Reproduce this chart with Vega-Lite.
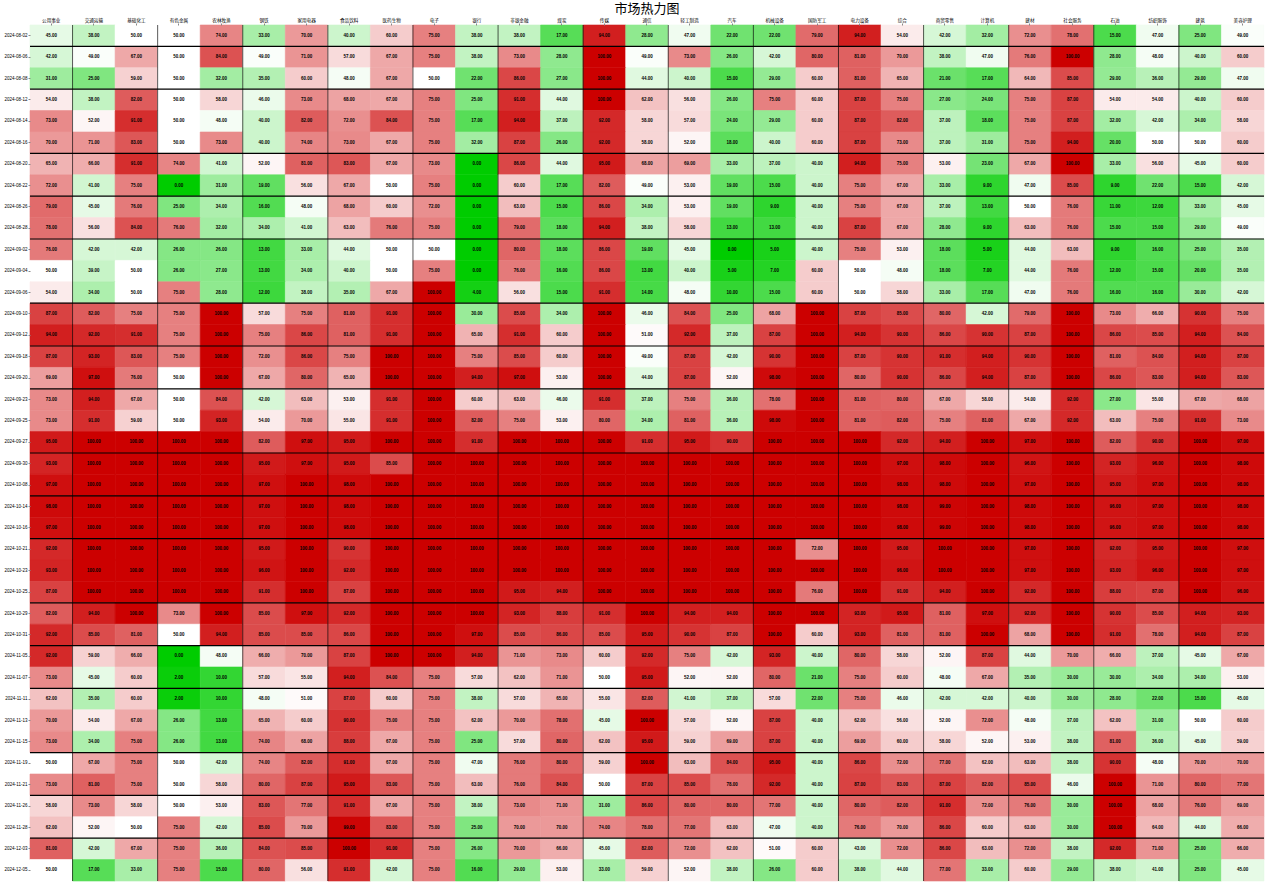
{"$schema":"https://vega.github.io/schema/vega-lite/v6.json","width":1234,"height":856,"autosize":"none","padding":{"left":30,"top":25,"right":3,"bottom":6},"background":"white","title":{"text":"市场热力图","font":"Noto Sans CJK SC","fontSize":13,"fontWeight":"normal","color":"#000","anchor":"middle","offset":1},"config":{"view":{"stroke":null}},
"datasets":{"cols":[{"c":1,"s":"公用事业"},{"c":2,"s":"交通运输"},{"c":3,"s":"基础化工"},{"c":4,"s":"有色金属"},{"c":5,"s":"农林牧渔"},{"c":6,"s":"钢铁"},{"c":7,"s":"家用电器"},{"c":8,"s":"食品饮料"},{"c":9,"s":"医药生物"},{"c":10,"s":"电子"},{"c":11,"s":"银行"},{"c":12,"s":"非银金融"},{"c":13,"s":"煤炭"},{"c":14,"s":"传媒"},{"c":15,"s":"通信"},{"c":16,"s":"轻工制造"},{"c":17,"s":"汽车"},{"c":18,"s":"机械设备"},{"c":19,"s":"国防军工"},{"c":20,"s":"电力设备"},{"c":21,"s":"综合"},{"c":22,"s":"商贸零售"},{"c":23,"s":"计算机"},{"c":24,"s":"建材"},{"c":25,"s":"社会服务"},{"c":26,"s":"石油"},{"c":27,"s":"纺织服饰"},{"c":28,"s":"建筑"},{"c":29,"s":"美容护理"}],
"rows":[{"r":1,"d":"2024-08-02"},{"r":2,"d":"2024-08-06"},{"r":3,"d":"2024-08-08"},{"r":4,"d":"2024-08-12"},{"r":5,"d":"2024-08-14"},{"r":6,"d":"2024-08-16"},{"r":7,"d":"2024-08-20"},{"r":8,"d":"2024-08-22"},{"r":9,"d":"2024-08-26"},{"r":10,"d":"2024-08-28"},{"r":11,"d":"2024-09-02"},{"r":12,"d":"2024-09-04"},{"r":13,"d":"2024-09-06"},{"r":14,"d":"2024-09-10"},{"r":15,"d":"2024-09-12"},{"r":16,"d":"2024-09-18"},{"r":17,"d":"2024-09-20"},{"r":18,"d":"2024-09-23"},{"r":19,"d":"2024-09-25"},{"r":20,"d":"2024-09-27"},{"r":21,"d":"2024-09-30"},{"r":22,"d":"2024-10-08"},{"r":23,"d":"2024-10-14"},{"r":24,"d":"2024-10-16"},{"r":25,"d":"2024-10-21"},{"r":26,"d":"2024-10-23"},{"r":27,"d":"2024-10-25"},{"r":28,"d":"2024-10-29"},{"r":29,"d":"2024-10-31"},{"r":30,"d":"2024-11-05"},{"r":31,"d":"2024-11-07"},{"r":32,"d":"2024-11-11"},{"r":33,"d":"2024-11-13"},{"r":34,"d":"2024-11-15"},{"r":35,"d":"2024-11-19"},{"r":36,"d":"2024-11-21"},{"r":37,"d":"2024-11-26"},{"r":38,"d":"2024-11-28"},{"r":39,"d":"2024-12-03"},{"r":40,"d":"2024-12-05"}],
"cells":[{"r":1,"c":1,"v":45},{"r":1,"c":2,"v":38},{"r":1,"c":3,"v":50},{"r":1,"c":4,"v":50},{"r":1,"c":5,"v":74},{"r":1,"c":6,"v":33},{"r":1,"c":7,"v":70},{"r":1,"c":8,"v":40},{"r":1,"c":9,"v":60},{"r":1,"c":10,"v":75},{"r":1,"c":11,"v":38},{"r":1,"c":12,"v":38},{"r":1,"c":13,"v":17},{"r":1,"c":14,"v":94},{"r":1,"c":15,"v":28},{"r":1,"c":16,"v":47},{"r":1,"c":17,"v":22},{"r":1,"c":18,"v":22},{"r":1,"c":19,"v":79},{"r":1,"c":20,"v":94},{"r":1,"c":21,"v":54},{"r":1,"c":22,"v":42},{"r":1,"c":23,"v":32},{"r":1,"c":24,"v":72},{"r":1,"c":25,"v":78},{"r":1,"c":26,"v":15},{"r":1,"c":27,"v":47},{"r":1,"c":28,"v":25},{"r":1,"c":29,"v":49},
{"r":2,"c":1,"v":42},{"r":2,"c":2,"v":49},{"r":2,"c":3,"v":67},{"r":2,"c":4,"v":50},{"r":2,"c":5,"v":84},{"r":2,"c":6,"v":49},{"r":2,"c":7,"v":71},{"r":2,"c":8,"v":57},{"r":2,"c":9,"v":67},{"r":2,"c":10,"v":75},{"r":2,"c":11,"v":38},{"r":2,"c":12,"v":73},{"r":2,"c":13,"v":28},{"r":2,"c":14,"v":100},{"r":2,"c":15,"v":49},{"r":2,"c":16,"v":73},{"r":2,"c":17,"v":26},{"r":2,"c":18,"v":42},{"r":2,"c":19,"v":80},{"r":2,"c":20,"v":81},{"r":2,"c":21,"v":70},{"r":2,"c":22,"v":38},{"r":2,"c":23,"v":47},{"r":2,"c":24,"v":76},{"r":2,"c":25,"v":100},{"r":2,"c":26,"v":28},{"r":2,"c":27,"v":48},{"r":2,"c":28,"v":40},{"r":2,"c":29,"v":60},
{"r":3,"c":1,"v":31},{"r":3,"c":2,"v":25},{"r":3,"c":3,"v":59},{"r":3,"c":4,"v":50},{"r":3,"c":5,"v":32},{"r":3,"c":6,"v":35},{"r":3,"c":7,"v":60},{"r":3,"c":8,"v":48},{"r":3,"c":9,"v":67},{"r":3,"c":10,"v":50},{"r":3,"c":11,"v":22},{"r":3,"c":12,"v":86},{"r":3,"c":13,"v":27},{"r":3,"c":14,"v":100},{"r":3,"c":15,"v":44},{"r":3,"c":16,"v":40},{"r":3,"c":17,"v":15},{"r":3,"c":18,"v":29},{"r":3,"c":19,"v":60},{"r":3,"c":20,"v":81},{"r":3,"c":21,"v":65},{"r":3,"c":22,"v":21},{"r":3,"c":23,"v":17},{"r":3,"c":24,"v":64},{"r":3,"c":25,"v":85},{"r":3,"c":26,"v":29},{"r":3,"c":27,"v":36},{"r":3,"c":28,"v":29},{"r":3,"c":29,"v":47},
{"r":4,"c":1,"v":54},{"r":4,"c":2,"v":38},{"r":4,"c":3,"v":82},{"r":4,"c":4,"v":50},{"r":4,"c":5,"v":58},{"r":4,"c":6,"v":46},{"r":4,"c":7,"v":73},{"r":4,"c":8,"v":68},{"r":4,"c":9,"v":67},{"r":4,"c":10,"v":75},{"r":4,"c":11,"v":25},{"r":4,"c":12,"v":91},{"r":4,"c":13,"v":44},{"r":4,"c":14,"v":100},{"r":4,"c":15,"v":62},{"r":4,"c":16,"v":56},{"r":4,"c":17,"v":26},{"r":4,"c":18,"v":75},{"r":4,"c":19,"v":60},{"r":4,"c":20,"v":87},{"r":4,"c":21,"v":75},{"r":4,"c":22,"v":27},{"r":4,"c":23,"v":24},{"r":4,"c":24,"v":75},{"r":4,"c":25,"v":87},{"r":4,"c":26,"v":54},{"r":4,"c":27,"v":54},{"r":4,"c":28,"v":40},{"r":4,"c":29,"v":60},
{"r":5,"c":1,"v":73},{"r":5,"c":2,"v":52},{"r":5,"c":3,"v":91},{"r":5,"c":4,"v":50},{"r":5,"c":5,"v":48},{"r":5,"c":6,"v":40},{"r":5,"c":7,"v":82},{"r":5,"c":8,"v":72},{"r":5,"c":9,"v":84},{"r":5,"c":10,"v":75},{"r":5,"c":11,"v":17},{"r":5,"c":12,"v":94},{"r":5,"c":13,"v":37},{"r":5,"c":14,"v":92},{"r":5,"c":15,"v":58},{"r":5,"c":16,"v":57},{"r":5,"c":17,"v":24},{"r":5,"c":18,"v":29},{"r":5,"c":19,"v":60},{"r":5,"c":20,"v":87},{"r":5,"c":21,"v":82},{"r":5,"c":22,"v":37},{"r":5,"c":23,"v":18},{"r":5,"c":24,"v":75},{"r":5,"c":25,"v":87},{"r":5,"c":26,"v":32},{"r":5,"c":27,"v":42},{"r":5,"c":28,"v":34},{"r":5,"c":29,"v":58},
{"r":6,"c":1,"v":70},{"r":6,"c":2,"v":71},{"r":6,"c":3,"v":83},{"r":6,"c":4,"v":50},{"r":6,"c":5,"v":73},{"r":6,"c":6,"v":40},{"r":6,"c":7,"v":74},{"r":6,"c":8,"v":73},{"r":6,"c":9,"v":67},{"r":6,"c":10,"v":75},{"r":6,"c":11,"v":32},{"r":6,"c":12,"v":87},{"r":6,"c":13,"v":26},{"r":6,"c":14,"v":92},{"r":6,"c":15,"v":58},{"r":6,"c":16,"v":52},{"r":6,"c":17,"v":18},{"r":6,"c":18,"v":40},{"r":6,"c":19,"v":60},{"r":6,"c":20,"v":87},{"r":6,"c":21,"v":73},{"r":6,"c":22,"v":37},{"r":6,"c":23,"v":31},{"r":6,"c":24,"v":75},{"r":6,"c":25,"v":94},{"r":6,"c":26,"v":20},{"r":6,"c":27,"v":50},{"r":6,"c":28,"v":50},{"r":6,"c":29,"v":60},
{"r":7,"c":1,"v":65},{"r":7,"c":2,"v":66},{"r":7,"c":3,"v":91},{"r":7,"c":4,"v":74},{"r":7,"c":5,"v":41},{"r":7,"c":6,"v":52},{"r":7,"c":7,"v":81},{"r":7,"c":8,"v":83},{"r":7,"c":9,"v":67},{"r":7,"c":10,"v":73},{"r":7,"c":11,"v":0},{"r":7,"c":12,"v":86},{"r":7,"c":13,"v":44},{"r":7,"c":14,"v":95},{"r":7,"c":15,"v":68},{"r":7,"c":16,"v":69},{"r":7,"c":17,"v":33},{"r":7,"c":18,"v":37},{"r":7,"c":19,"v":40},{"r":7,"c":20,"v":94},{"r":7,"c":21,"v":75},{"r":7,"c":22,"v":53},{"r":7,"c":23,"v":23},{"r":7,"c":24,"v":67},{"r":7,"c":25,"v":100},{"r":7,"c":26,"v":33},{"r":7,"c":27,"v":56},{"r":7,"c":28,"v":45},{"r":7,"c":29,"v":60},
{"r":8,"c":1,"v":72},{"r":8,"c":2,"v":41},{"r":8,"c":3,"v":75},{"r":8,"c":4,"v":0},{"r":8,"c":5,"v":31},{"r":8,"c":6,"v":19},{"r":8,"c":7,"v":56},{"r":8,"c":8,"v":67},{"r":8,"c":9,"v":50},{"r":8,"c":10,"v":75},{"r":8,"c":11,"v":0},{"r":8,"c":12,"v":60},{"r":8,"c":13,"v":17},{"r":8,"c":14,"v":82},{"r":8,"c":15,"v":49},{"r":8,"c":16,"v":53},{"r":8,"c":17,"v":19},{"r":8,"c":18,"v":15},{"r":8,"c":19,"v":40},{"r":8,"c":20,"v":75},{"r":8,"c":21,"v":67},{"r":8,"c":22,"v":33},{"r":8,"c":23,"v":9},{"r":8,"c":24,"v":47},{"r":8,"c":25,"v":85},{"r":8,"c":26,"v":9},{"r":8,"c":27,"v":22},{"r":8,"c":28,"v":15},{"r":8,"c":29,"v":42},
{"r":9,"c":1,"v":79},{"r":9,"c":2,"v":45},{"r":9,"c":3,"v":76},{"r":9,"c":4,"v":25},{"r":9,"c":5,"v":34},{"r":9,"c":6,"v":16},{"r":9,"c":7,"v":48},{"r":9,"c":8,"v":68},{"r":9,"c":9,"v":60},{"r":9,"c":10,"v":72},{"r":9,"c":11,"v":0},{"r":9,"c":12,"v":63},{"r":9,"c":13,"v":15},{"r":9,"c":14,"v":86},{"r":9,"c":15,"v":34},{"r":9,"c":16,"v":53},{"r":9,"c":17,"v":19},{"r":9,"c":18,"v":9},{"r":9,"c":19,"v":40},{"r":9,"c":20,"v":75},{"r":9,"c":21,"v":67},{"r":9,"c":22,"v":37},{"r":9,"c":23,"v":13},{"r":9,"c":24,"v":50},{"r":9,"c":25,"v":76},{"r":9,"c":26,"v":11},{"r":9,"c":27,"v":12},{"r":9,"c":28,"v":33},{"r":9,"c":29,"v":45},
{"r":10,"c":1,"v":78},{"r":10,"c":2,"v":56},{"r":10,"c":3,"v":84},{"r":10,"c":4,"v":76},{"r":10,"c":5,"v":32},{"r":10,"c":6,"v":34},{"r":10,"c":7,"v":41},{"r":10,"c":8,"v":63},{"r":10,"c":9,"v":76},{"r":10,"c":10,"v":75},{"r":10,"c":11,"v":0},{"r":10,"c":12,"v":79},{"r":10,"c":13,"v":18},{"r":10,"c":14,"v":94},{"r":10,"c":15,"v":38},{"r":10,"c":16,"v":58},{"r":10,"c":17,"v":13},{"r":10,"c":18,"v":13},{"r":10,"c":19,"v":40},{"r":10,"c":20,"v":87},{"r":10,"c":21,"v":67},{"r":10,"c":22,"v":28},{"r":10,"c":23,"v":9},{"r":10,"c":24,"v":63},{"r":10,"c":25,"v":76},{"r":10,"c":26,"v":15},{"r":10,"c":27,"v":15},{"r":10,"c":28,"v":29},{"r":10,"c":29,"v":49},
{"r":11,"c":1,"v":76},{"r":11,"c":2,"v":42},{"r":11,"c":3,"v":42},{"r":11,"c":4,"v":26},{"r":11,"c":5,"v":26},{"r":11,"c":6,"v":13},{"r":11,"c":7,"v":33},{"r":11,"c":8,"v":44},{"r":11,"c":9,"v":50},{"r":11,"c":10,"v":50},{"r":11,"c":11,"v":0},{"r":11,"c":12,"v":80},{"r":11,"c":13,"v":18},{"r":11,"c":14,"v":86},{"r":11,"c":15,"v":19},{"r":11,"c":16,"v":45},{"r":11,"c":17,"v":0},{"r":11,"c":18,"v":5},{"r":11,"c":19,"v":40},{"r":11,"c":20,"v":75},{"r":11,"c":21,"v":53},{"r":11,"c":22,"v":18},{"r":11,"c":23,"v":5},{"r":11,"c":24,"v":44},{"r":11,"c":25,"v":63},{"r":11,"c":26,"v":9},{"r":11,"c":27,"v":16},{"r":11,"c":28,"v":25},{"r":11,"c":29,"v":35},
{"r":12,"c":1,"v":50},{"r":12,"c":2,"v":39},{"r":12,"c":3,"v":50},{"r":12,"c":4,"v":26},{"r":12,"c":5,"v":27},{"r":12,"c":6,"v":13},{"r":12,"c":7,"v":34},{"r":12,"c":8,"v":40},{"r":12,"c":9,"v":50},{"r":12,"c":10,"v":75},{"r":12,"c":11,"v":0},{"r":12,"c":12,"v":76},{"r":12,"c":13,"v":16},{"r":12,"c":14,"v":86},{"r":12,"c":15,"v":13},{"r":12,"c":16,"v":40},{"r":12,"c":17,"v":5},{"r":12,"c":18,"v":7},{"r":12,"c":19,"v":60},{"r":12,"c":20,"v":50},{"r":12,"c":21,"v":48},{"r":12,"c":22,"v":18},{"r":12,"c":23,"v":7},{"r":12,"c":24,"v":44},{"r":12,"c":25,"v":76},{"r":12,"c":26,"v":12},{"r":12,"c":27,"v":15},{"r":12,"c":28,"v":20},{"r":12,"c":29,"v":35},
{"r":13,"c":1,"v":54},{"r":13,"c":2,"v":34},{"r":13,"c":3,"v":50},{"r":13,"c":4,"v":75},{"r":13,"c":5,"v":28},{"r":13,"c":6,"v":12},{"r":13,"c":7,"v":38},{"r":13,"c":8,"v":35},{"r":13,"c":9,"v":67},{"r":13,"c":10,"v":100},{"r":13,"c":11,"v":4},{"r":13,"c":12,"v":56},{"r":13,"c":13,"v":15},{"r":13,"c":14,"v":91},{"r":13,"c":15,"v":14},{"r":13,"c":16,"v":48},{"r":13,"c":17,"v":10},{"r":13,"c":18,"v":15},{"r":13,"c":19,"v":60},{"r":13,"c":20,"v":50},{"r":13,"c":21,"v":58},{"r":13,"c":22,"v":33},{"r":13,"c":23,"v":17},{"r":13,"c":24,"v":47},{"r":13,"c":25,"v":76},{"r":13,"c":26,"v":16},{"r":13,"c":27,"v":16},{"r":13,"c":28,"v":30},{"r":13,"c":29,"v":42},
{"r":14,"c":1,"v":87},{"r":14,"c":2,"v":82},{"r":14,"c":3,"v":75},{"r":14,"c":4,"v":75},{"r":14,"c":5,"v":100},{"r":14,"c":6,"v":57},{"r":14,"c":7,"v":75},{"r":14,"c":8,"v":81},{"r":14,"c":9,"v":91},{"r":14,"c":10,"v":100},{"r":14,"c":11,"v":30},{"r":14,"c":12,"v":85},{"r":14,"c":13,"v":34},{"r":14,"c":14,"v":100},{"r":14,"c":15,"v":46},{"r":14,"c":16,"v":84},{"r":14,"c":17,"v":25},{"r":14,"c":18,"v":68},{"r":14,"c":19,"v":100},{"r":14,"c":20,"v":87},{"r":14,"c":21,"v":85},{"r":14,"c":22,"v":80},{"r":14,"c":23,"v":42},{"r":14,"c":24,"v":79},{"r":14,"c":25,"v":100},{"r":14,"c":26,"v":73},{"r":14,"c":27,"v":66},{"r":14,"c":28,"v":90},{"r":14,"c":29,"v":75},
{"r":15,"c":1,"v":94},{"r":15,"c":2,"v":92},{"r":15,"c":3,"v":91},{"r":15,"c":4,"v":75},{"r":15,"c":5,"v":100},{"r":15,"c":6,"v":75},{"r":15,"c":7,"v":86},{"r":15,"c":8,"v":81},{"r":15,"c":9,"v":91},{"r":15,"c":10,"v":100},{"r":15,"c":11,"v":65},{"r":15,"c":12,"v":91},{"r":15,"c":13,"v":60},{"r":15,"c":14,"v":100},{"r":15,"c":15,"v":51},{"r":15,"c":16,"v":92},{"r":15,"c":17,"v":37},{"r":15,"c":18,"v":87},{"r":15,"c":19,"v":100},{"r":15,"c":20,"v":94},{"r":15,"c":21,"v":90},{"r":15,"c":22,"v":86},{"r":15,"c":23,"v":90},{"r":15,"c":24,"v":87},{"r":15,"c":25,"v":100},{"r":15,"c":26,"v":86},{"r":15,"c":27,"v":85},{"r":15,"c":28,"v":94},{"r":15,"c":29,"v":84},
{"r":16,"c":1,"v":87},{"r":16,"c":2,"v":93},{"r":16,"c":3,"v":83},{"r":16,"c":4,"v":75},{"r":16,"c":5,"v":100},{"r":16,"c":6,"v":72},{"r":16,"c":7,"v":86},{"r":16,"c":8,"v":75},{"r":16,"c":9,"v":100},{"r":16,"c":10,"v":100},{"r":16,"c":11,"v":75},{"r":16,"c":12,"v":85},{"r":16,"c":13,"v":60},{"r":16,"c":14,"v":100},{"r":16,"c":15,"v":49},{"r":16,"c":16,"v":87},{"r":16,"c":17,"v":42},{"r":16,"c":18,"v":90},{"r":16,"c":19,"v":100},{"r":16,"c":20,"v":87},{"r":16,"c":21,"v":90},{"r":16,"c":22,"v":91},{"r":16,"c":23,"v":94},{"r":16,"c":24,"v":90},{"r":16,"c":25,"v":100},{"r":16,"c":26,"v":81},{"r":16,"c":27,"v":84},{"r":16,"c":28,"v":94},{"r":16,"c":29,"v":87},
{"r":17,"c":1,"v":69},{"r":17,"c":2,"v":97},{"r":17,"c":3,"v":76},{"r":17,"c":4,"v":50},{"r":17,"c":5,"v":100},{"r":17,"c":6,"v":67},{"r":17,"c":7,"v":80},{"r":17,"c":8,"v":65},{"r":17,"c":9,"v":100},{"r":17,"c":10,"v":100},{"r":17,"c":11,"v":94},{"r":17,"c":12,"v":97},{"r":17,"c":13,"v":53},{"r":17,"c":14,"v":100},{"r":17,"c":15,"v":44},{"r":17,"c":16,"v":87},{"r":17,"c":17,"v":52},{"r":17,"c":18,"v":98},{"r":17,"c":19,"v":100},{"r":17,"c":20,"v":80},{"r":17,"c":21,"v":90},{"r":17,"c":22,"v":86},{"r":17,"c":23,"v":94},{"r":17,"c":24,"v":87},{"r":17,"c":25,"v":100},{"r":17,"c":26,"v":86},{"r":17,"c":27,"v":83},{"r":17,"c":28,"v":94},{"r":17,"c":29,"v":83},
{"r":18,"c":1,"v":73},{"r":18,"c":2,"v":94},{"r":18,"c":3,"v":67},{"r":18,"c":4,"v":50},{"r":18,"c":5,"v":84},{"r":18,"c":6,"v":42},{"r":18,"c":7,"v":63},{"r":18,"c":8,"v":53},{"r":18,"c":9,"v":91},{"r":18,"c":10,"v":100},{"r":18,"c":11,"v":60},{"r":18,"c":12,"v":63},{"r":18,"c":13,"v":46},{"r":18,"c":14,"v":91},{"r":18,"c":15,"v":37},{"r":18,"c":16,"v":75},{"r":18,"c":17,"v":36},{"r":18,"c":18,"v":78},{"r":18,"c":19,"v":100},{"r":18,"c":20,"v":81},{"r":18,"c":21,"v":80},{"r":18,"c":22,"v":67},{"r":18,"c":23,"v":58},{"r":18,"c":24,"v":54},{"r":18,"c":25,"v":92},{"r":18,"c":26,"v":27},{"r":18,"c":27,"v":55},{"r":18,"c":28,"v":67},{"r":18,"c":29,"v":68},
{"r":19,"c":1,"v":73},{"r":19,"c":2,"v":91},{"r":19,"c":3,"v":59},{"r":19,"c":4,"v":50},{"r":19,"c":5,"v":93},{"r":19,"c":6,"v":54},{"r":19,"c":7,"v":70},{"r":19,"c":8,"v":55},{"r":19,"c":9,"v":91},{"r":19,"c":10,"v":100},{"r":19,"c":11,"v":82},{"r":19,"c":12,"v":75},{"r":19,"c":13,"v":53},{"r":19,"c":14,"v":80},{"r":19,"c":15,"v":34},{"r":19,"c":16,"v":81},{"r":19,"c":17,"v":36},{"r":19,"c":18,"v":98},{"r":19,"c":19,"v":100},{"r":19,"c":20,"v":81},{"r":19,"c":21,"v":82},{"r":19,"c":22,"v":75},{"r":19,"c":23,"v":81},{"r":19,"c":24,"v":67},{"r":19,"c":25,"v":92},{"r":19,"c":26,"v":63},{"r":19,"c":27,"v":75},{"r":19,"c":28,"v":91},{"r":19,"c":29,"v":73},
{"r":20,"c":1,"v":95},{"r":20,"c":2,"v":100},{"r":20,"c":3,"v":100},{"r":20,"c":4,"v":100},{"r":20,"c":5,"v":100},{"r":20,"c":6,"v":82},{"r":20,"c":7,"v":97},{"r":20,"c":8,"v":95},{"r":20,"c":9,"v":100},{"r":20,"c":10,"v":100},{"r":20,"c":11,"v":91},{"r":20,"c":12,"v":100},{"r":20,"c":13,"v":100},{"r":20,"c":14,"v":100},{"r":20,"c":15,"v":91},{"r":20,"c":16,"v":95},{"r":20,"c":17,"v":90},{"r":20,"c":18,"v":100},{"r":20,"c":19,"v":100},{"r":20,"c":20,"v":100},{"r":20,"c":21,"v":92},{"r":20,"c":22,"v":94},{"r":20,"c":23,"v":100},{"r":20,"c":24,"v":97},{"r":20,"c":25,"v":100},{"r":20,"c":26,"v":82},{"r":20,"c":27,"v":90},{"r":20,"c":28,"v":100},{"r":20,"c":29,"v":97},
{"r":21,"c":1,"v":93},{"r":21,"c":2,"v":100},{"r":21,"c":3,"v":100},{"r":21,"c":4,"v":100},{"r":21,"c":5,"v":100},{"r":21,"c":6,"v":95},{"r":21,"c":7,"v":97},{"r":21,"c":8,"v":95},{"r":21,"c":9,"v":85},{"r":21,"c":10,"v":100},{"r":21,"c":11,"v":100},{"r":21,"c":12,"v":100},{"r":21,"c":13,"v":100},{"r":21,"c":14,"v":100},{"r":21,"c":15,"v":100},{"r":21,"c":16,"v":100},{"r":21,"c":17,"v":100},{"r":21,"c":18,"v":100},{"r":21,"c":19,"v":100},{"r":21,"c":20,"v":100},{"r":21,"c":21,"v":97},{"r":21,"c":22,"v":98},{"r":21,"c":23,"v":100},{"r":21,"c":24,"v":96},{"r":21,"c":25,"v":100},{"r":21,"c":26,"v":93},{"r":21,"c":27,"v":96},{"r":21,"c":28,"v":100},{"r":21,"c":29,"v":98},
{"r":22,"c":1,"v":97},{"r":22,"c":2,"v":100},{"r":22,"c":3,"v":100},{"r":22,"c":4,"v":100},{"r":22,"c":5,"v":100},{"r":22,"c":6,"v":97},{"r":22,"c":7,"v":100},{"r":22,"c":8,"v":98},{"r":22,"c":9,"v":100},{"r":22,"c":10,"v":100},{"r":22,"c":11,"v":100},{"r":22,"c":12,"v":100},{"r":22,"c":13,"v":100},{"r":22,"c":14,"v":100},{"r":22,"c":15,"v":100},{"r":22,"c":16,"v":100},{"r":22,"c":17,"v":100},{"r":22,"c":18,"v":100},{"r":22,"c":19,"v":100},{"r":22,"c":20,"v":100},{"r":22,"c":21,"v":98},{"r":22,"c":22,"v":98},{"r":22,"c":23,"v":100},{"r":22,"c":24,"v":97},{"r":22,"c":25,"v":100},{"r":22,"c":26,"v":95},{"r":22,"c":27,"v":97},{"r":22,"c":28,"v":100},{"r":22,"c":29,"v":98},
{"r":23,"c":1,"v":98},{"r":23,"c":2,"v":100},{"r":23,"c":3,"v":100},{"r":23,"c":4,"v":100},{"r":23,"c":5,"v":100},{"r":23,"c":6,"v":97},{"r":23,"c":7,"v":100},{"r":23,"c":8,"v":98},{"r":23,"c":9,"v":100},{"r":23,"c":10,"v":100},{"r":23,"c":11,"v":100},{"r":23,"c":12,"v":100},{"r":23,"c":13,"v":100},{"r":23,"c":14,"v":100},{"r":23,"c":15,"v":100},{"r":23,"c":16,"v":100},{"r":23,"c":17,"v":100},{"r":23,"c":18,"v":100},{"r":23,"c":19,"v":100},{"r":23,"c":20,"v":100},{"r":23,"c":21,"v":98},{"r":23,"c":22,"v":99},{"r":23,"c":23,"v":100},{"r":23,"c":24,"v":98},{"r":23,"c":25,"v":100},{"r":23,"c":26,"v":96},{"r":23,"c":27,"v":97},{"r":23,"c":28,"v":100},{"r":23,"c":29,"v":98},
{"r":24,"c":1,"v":97},{"r":24,"c":2,"v":100},{"r":24,"c":3,"v":100},{"r":24,"c":4,"v":100},{"r":24,"c":5,"v":100},{"r":24,"c":6,"v":97},{"r":24,"c":7,"v":100},{"r":24,"c":8,"v":98},{"r":24,"c":9,"v":100},{"r":24,"c":10,"v":100},{"r":24,"c":11,"v":100},{"r":24,"c":12,"v":100},{"r":24,"c":13,"v":100},{"r":24,"c":14,"v":100},{"r":24,"c":15,"v":100},{"r":24,"c":16,"v":100},{"r":24,"c":17,"v":100},{"r":24,"c":18,"v":100},{"r":24,"c":19,"v":100},{"r":24,"c":20,"v":100},{"r":24,"c":21,"v":98},{"r":24,"c":22,"v":99},{"r":24,"c":23,"v":100},{"r":24,"c":24,"v":98},{"r":24,"c":25,"v":100},{"r":24,"c":26,"v":96},{"r":24,"c":27,"v":97},{"r":24,"c":28,"v":100},{"r":24,"c":29,"v":98},
{"r":25,"c":1,"v":92},{"r":25,"c":2,"v":100},{"r":25,"c":3,"v":100},{"r":25,"c":4,"v":100},{"r":25,"c":5,"v":100},{"r":25,"c":6,"v":95},{"r":25,"c":7,"v":100},{"r":25,"c":8,"v":90},{"r":25,"c":9,"v":100},{"r":25,"c":10,"v":100},{"r":25,"c":11,"v":100},{"r":25,"c":12,"v":100},{"r":25,"c":13,"v":100},{"r":25,"c":14,"v":100},{"r":25,"c":15,"v":100},{"r":25,"c":16,"v":100},{"r":25,"c":17,"v":100},{"r":25,"c":18,"v":100},{"r":25,"c":19,"v":72},{"r":25,"c":20,"v":100},{"r":25,"c":21,"v":95},{"r":25,"c":22,"v":100},{"r":25,"c":23,"v":100},{"r":25,"c":24,"v":97},{"r":25,"c":25,"v":100},{"r":25,"c":26,"v":92},{"r":25,"c":27,"v":95},{"r":25,"c":28,"v":100},{"r":25,"c":29,"v":97},
{"r":26,"c":1,"v":93},{"r":26,"c":2,"v":100},{"r":26,"c":3,"v":100},{"r":26,"c":4,"v":100},{"r":26,"c":5,"v":100},{"r":26,"c":6,"v":96},{"r":26,"c":7,"v":100},{"r":26,"c":8,"v":92},{"r":26,"c":9,"v":100},{"r":26,"c":10,"v":100},{"r":26,"c":11,"v":100},{"r":26,"c":12,"v":100},{"r":26,"c":13,"v":100},{"r":26,"c":14,"v":100},{"r":26,"c":15,"v":100},{"r":26,"c":16,"v":100},{"r":26,"c":17,"v":100},{"r":26,"c":18,"v":100},{"r":26,"c":19,"v":100},{"r":26,"c":20,"v":100},{"r":26,"c":21,"v":96},{"r":26,"c":22,"v":100},{"r":26,"c":23,"v":100},{"r":26,"c":24,"v":97},{"r":26,"c":25,"v":100},{"r":26,"c":26,"v":93},{"r":26,"c":27,"v":96},{"r":26,"c":28,"v":100},{"r":26,"c":29,"v":97},
{"r":27,"c":1,"v":87},{"r":27,"c":2,"v":100},{"r":27,"c":3,"v":100},{"r":27,"c":4,"v":100},{"r":27,"c":5,"v":100},{"r":27,"c":6,"v":91},{"r":27,"c":7,"v":100},{"r":27,"c":8,"v":87},{"r":27,"c":9,"v":100},{"r":27,"c":10,"v":100},{"r":27,"c":11,"v":100},{"r":27,"c":12,"v":95},{"r":27,"c":13,"v":94},{"r":27,"c":14,"v":100},{"r":27,"c":15,"v":100},{"r":27,"c":16,"v":100},{"r":27,"c":17,"v":100},{"r":27,"c":18,"v":100},{"r":27,"c":19,"v":76},{"r":27,"c":20,"v":100},{"r":27,"c":21,"v":91},{"r":27,"c":22,"v":94},{"r":27,"c":23,"v":100},{"r":27,"c":24,"v":92},{"r":27,"c":25,"v":100},{"r":27,"c":26,"v":88},{"r":27,"c":27,"v":87},{"r":27,"c":28,"v":100},{"r":27,"c":29,"v":96},
{"r":28,"c":1,"v":82},{"r":28,"c":2,"v":94},{"r":28,"c":3,"v":100},{"r":28,"c":4,"v":73},{"r":28,"c":5,"v":100},{"r":28,"c":6,"v":85},{"r":28,"c":7,"v":97},{"r":28,"c":8,"v":92},{"r":28,"c":9,"v":100},{"r":28,"c":10,"v":100},{"r":28,"c":11,"v":100},{"r":28,"c":12,"v":93},{"r":28,"c":13,"v":88},{"r":28,"c":14,"v":91},{"r":28,"c":15,"v":100},{"r":28,"c":16,"v":94},{"r":28,"c":17,"v":94},{"r":28,"c":18,"v":100},{"r":28,"c":19,"v":100},{"r":28,"c":20,"v":93},{"r":28,"c":21,"v":95},{"r":28,"c":22,"v":81},{"r":28,"c":23,"v":97},{"r":28,"c":24,"v":92},{"r":28,"c":25,"v":100},{"r":28,"c":26,"v":90},{"r":28,"c":27,"v":85},{"r":28,"c":28,"v":94},{"r":28,"c":29,"v":93},
{"r":29,"c":1,"v":92},{"r":29,"c":2,"v":85},{"r":29,"c":3,"v":81},{"r":29,"c":4,"v":50},{"r":29,"c":5,"v":94},{"r":29,"c":6,"v":85},{"r":29,"c":7,"v":85},{"r":29,"c":8,"v":86},{"r":29,"c":9,"v":100},{"r":29,"c":10,"v":100},{"r":29,"c":11,"v":97},{"r":29,"c":12,"v":85},{"r":29,"c":13,"v":86},{"r":29,"c":14,"v":85},{"r":29,"c":15,"v":95},{"r":29,"c":16,"v":90},{"r":29,"c":17,"v":87},{"r":29,"c":18,"v":100},{"r":29,"c":19,"v":60},{"r":29,"c":20,"v":93},{"r":29,"c":21,"v":81},{"r":29,"c":22,"v":81},{"r":29,"c":23,"v":100},{"r":29,"c":24,"v":68},{"r":29,"c":25,"v":100},{"r":29,"c":26,"v":91},{"r":29,"c":27,"v":78},{"r":29,"c":28,"v":94},{"r":29,"c":29,"v":87},
{"r":30,"c":1,"v":92},{"r":30,"c":2,"v":59},{"r":30,"c":3,"v":66},{"r":30,"c":4,"v":0},{"r":30,"c":5,"v":48},{"r":30,"c":6,"v":66},{"r":30,"c":7,"v":70},{"r":30,"c":8,"v":87},{"r":30,"c":9,"v":100},{"r":30,"c":10,"v":100},{"r":30,"c":11,"v":94},{"r":30,"c":12,"v":71},{"r":30,"c":13,"v":73},{"r":30,"c":14,"v":60},{"r":30,"c":15,"v":92},{"r":30,"c":16,"v":75},{"r":30,"c":17,"v":42},{"r":30,"c":18,"v":93},{"r":30,"c":19,"v":40},{"r":30,"c":20,"v":80},{"r":30,"c":21,"v":58},{"r":30,"c":22,"v":52},{"r":30,"c":23,"v":87},{"r":30,"c":24,"v":44},{"r":30,"c":25,"v":70},{"r":30,"c":26,"v":66},{"r":30,"c":27,"v":37},{"r":30,"c":28,"v":45},{"r":30,"c":29,"v":67},
{"r":31,"c":1,"v":73},{"r":31,"c":2,"v":45},{"r":31,"c":3,"v":60},{"r":31,"c":4,"v":2},{"r":31,"c":5,"v":10},{"r":31,"c":6,"v":57},{"r":31,"c":7,"v":55},{"r":31,"c":8,"v":94},{"r":31,"c":9,"v":84},{"r":31,"c":10,"v":75},{"r":31,"c":11,"v":57},{"r":31,"c":12,"v":62},{"r":31,"c":13,"v":71},{"r":31,"c":14,"v":50},{"r":31,"c":15,"v":95},{"r":31,"c":16,"v":52},{"r":31,"c":17,"v":52},{"r":31,"c":18,"v":80},{"r":31,"c":19,"v":21},{"r":31,"c":20,"v":75},{"r":31,"c":21,"v":60},{"r":31,"c":22,"v":48},{"r":31,"c":23,"v":67},{"r":31,"c":24,"v":35},{"r":31,"c":25,"v":30},{"r":31,"c":26,"v":30},{"r":31,"c":27,"v":34},{"r":31,"c":28,"v":34},{"r":31,"c":29,"v":53},
{"r":32,"c":1,"v":62},{"r":32,"c":2,"v":35},{"r":32,"c":3,"v":60},{"r":32,"c":4,"v":2},{"r":32,"c":5,"v":10},{"r":32,"c":6,"v":48},{"r":32,"c":7,"v":51},{"r":32,"c":8,"v":87},{"r":32,"c":9,"v":60},{"r":32,"c":10,"v":75},{"r":32,"c":11,"v":38},{"r":32,"c":12,"v":57},{"r":32,"c":13,"v":65},{"r":32,"c":14,"v":55},{"r":32,"c":15,"v":82},{"r":32,"c":16,"v":41},{"r":32,"c":17,"v":37},{"r":32,"c":18,"v":57},{"r":32,"c":19,"v":22},{"r":32,"c":20,"v":75},{"r":32,"c":21,"v":46},{"r":32,"c":22,"v":42},{"r":32,"c":23,"v":42},{"r":32,"c":24,"v":40},{"r":32,"c":25,"v":30},{"r":32,"c":26,"v":28},{"r":32,"c":27,"v":22},{"r":32,"c":28,"v":15},{"r":32,"c":29,"v":45},
{"r":33,"c":1,"v":70},{"r":33,"c":2,"v":54},{"r":33,"c":3,"v":67},{"r":33,"c":4,"v":26},{"r":33,"c":5,"v":13},{"r":33,"c":6,"v":65},{"r":33,"c":7,"v":60},{"r":33,"c":8,"v":90},{"r":33,"c":9,"v":75},{"r":33,"c":10,"v":75},{"r":33,"c":11,"v":62},{"r":33,"c":12,"v":70},{"r":33,"c":13,"v":78},{"r":33,"c":14,"v":45},{"r":33,"c":15,"v":100},{"r":33,"c":16,"v":57},{"r":33,"c":17,"v":52},{"r":33,"c":18,"v":87},{"r":33,"c":19,"v":40},{"r":33,"c":20,"v":62},{"r":33,"c":21,"v":56},{"r":33,"c":22,"v":52},{"r":33,"c":23,"v":72},{"r":33,"c":24,"v":48},{"r":33,"c":25,"v":37},{"r":33,"c":26,"v":62},{"r":33,"c":27,"v":31},{"r":33,"c":28,"v":50},{"r":33,"c":29,"v":60},
{"r":34,"c":1,"v":73},{"r":34,"c":2,"v":34},{"r":34,"c":3,"v":75},{"r":34,"c":4,"v":26},{"r":34,"c":5,"v":13},{"r":34,"c":6,"v":74},{"r":34,"c":7,"v":68},{"r":34,"c":8,"v":88},{"r":34,"c":9,"v":67},{"r":34,"c":10,"v":75},{"r":34,"c":11,"v":25},{"r":34,"c":12,"v":57},{"r":34,"c":13,"v":80},{"r":34,"c":14,"v":62},{"r":34,"c":15,"v":95},{"r":34,"c":16,"v":59},{"r":34,"c":17,"v":69},{"r":34,"c":18,"v":87},{"r":34,"c":19,"v":40},{"r":34,"c":20,"v":69},{"r":34,"c":21,"v":60},{"r":34,"c":22,"v":58},{"r":34,"c":23,"v":52},{"r":34,"c":24,"v":53},{"r":34,"c":25,"v":38},{"r":34,"c":26,"v":81},{"r":34,"c":27,"v":36},{"r":34,"c":28,"v":45},{"r":34,"c":29,"v":59},
{"r":35,"c":1,"v":50},{"r":35,"c":2,"v":67},{"r":35,"c":3,"v":75},{"r":35,"c":4,"v":50},{"r":35,"c":5,"v":42},{"r":35,"c":6,"v":74},{"r":35,"c":7,"v":82},{"r":35,"c":8,"v":91},{"r":35,"c":9,"v":67},{"r":35,"c":10,"v":75},{"r":35,"c":11,"v":47},{"r":35,"c":12,"v":76},{"r":35,"c":13,"v":80},{"r":35,"c":14,"v":59},{"r":35,"c":15,"v":100},{"r":35,"c":16,"v":63},{"r":35,"c":17,"v":84},{"r":35,"c":18,"v":95},{"r":35,"c":19,"v":40},{"r":35,"c":20,"v":86},{"r":35,"c":21,"v":72},{"r":35,"c":22,"v":77},{"r":35,"c":23,"v":62},{"r":35,"c":24,"v":63},{"r":35,"c":25,"v":38},{"r":35,"c":26,"v":90},{"r":35,"c":27,"v":48},{"r":35,"c":28,"v":70},{"r":35,"c":29,"v":70},
{"r":36,"c":1,"v":73},{"r":36,"c":2,"v":81},{"r":36,"c":3,"v":75},{"r":36,"c":4,"v":50},{"r":36,"c":5,"v":58},{"r":36,"c":6,"v":80},{"r":36,"c":7,"v":87},{"r":36,"c":8,"v":95},{"r":36,"c":9,"v":83},{"r":36,"c":10,"v":75},{"r":36,"c":11,"v":63},{"r":36,"c":12,"v":76},{"r":36,"c":13,"v":84},{"r":36,"c":14,"v":50},{"r":36,"c":15,"v":87},{"r":36,"c":16,"v":85},{"r":36,"c":17,"v":78},{"r":36,"c":18,"v":92},{"r":36,"c":19,"v":40},{"r":36,"c":20,"v":87},{"r":36,"c":21,"v":83},{"r":36,"c":22,"v":87},{"r":36,"c":23,"v":82},{"r":36,"c":24,"v":85},{"r":36,"c":25,"v":46},{"r":36,"c":26,"v":100},{"r":36,"c":27,"v":71},{"r":36,"c":28,"v":80},{"r":36,"c":29,"v":77},
{"r":37,"c":1,"v":58},{"r":37,"c":2,"v":73},{"r":37,"c":3,"v":58},{"r":37,"c":4,"v":50},{"r":37,"c":5,"v":53},{"r":37,"c":6,"v":83},{"r":37,"c":7,"v":77},{"r":37,"c":8,"v":91},{"r":37,"c":9,"v":67},{"r":37,"c":10,"v":75},{"r":37,"c":11,"v":38},{"r":37,"c":12,"v":73},{"r":37,"c":13,"v":71},{"r":37,"c":14,"v":31},{"r":37,"c":15,"v":86},{"r":37,"c":16,"v":80},{"r":37,"c":17,"v":80},{"r":37,"c":18,"v":77},{"r":37,"c":19,"v":40},{"r":37,"c":20,"v":80},{"r":37,"c":21,"v":82},{"r":37,"c":22,"v":91},{"r":37,"c":23,"v":72},{"r":37,"c":24,"v":76},{"r":37,"c":25,"v":30},{"r":37,"c":26,"v":100},{"r":37,"c":27,"v":68},{"r":37,"c":28,"v":76},{"r":37,"c":29,"v":69},
{"r":38,"c":1,"v":62},{"r":38,"c":2,"v":52},{"r":38,"c":3,"v":50},{"r":38,"c":4,"v":75},{"r":38,"c":5,"v":42},{"r":38,"c":6,"v":85},{"r":38,"c":7,"v":70},{"r":38,"c":8,"v":99},{"r":38,"c":9,"v":83},{"r":38,"c":10,"v":75},{"r":38,"c":11,"v":25},{"r":38,"c":12,"v":70},{"r":38,"c":13,"v":70},{"r":38,"c":14,"v":74},{"r":38,"c":15,"v":78},{"r":38,"c":16,"v":77},{"r":38,"c":17,"v":63},{"r":38,"c":18,"v":47},{"r":38,"c":19,"v":40},{"r":38,"c":20,"v":76},{"r":38,"c":21,"v":70},{"r":38,"c":22,"v":86},{"r":38,"c":23,"v":60},{"r":38,"c":24,"v":63},{"r":38,"c":25,"v":30},{"r":38,"c":26,"v":100},{"r":38,"c":27,"v":64},{"r":38,"c":28,"v":44},{"r":38,"c":29,"v":66},
{"r":39,"c":1,"v":81},{"r":39,"c":2,"v":42},{"r":39,"c":3,"v":67},{"r":39,"c":4,"v":75},{"r":39,"c":5,"v":36},{"r":39,"c":6,"v":84},{"r":39,"c":7,"v":85},{"r":39,"c":8,"v":100},{"r":39,"c":9,"v":91},{"r":39,"c":10,"v":75},{"r":39,"c":11,"v":26},{"r":39,"c":12,"v":70},{"r":39,"c":13,"v":66},{"r":39,"c":14,"v":45},{"r":39,"c":15,"v":82},{"r":39,"c":16,"v":72},{"r":39,"c":17,"v":62},{"r":39,"c":18,"v":51},{"r":39,"c":19,"v":60},{"r":39,"c":20,"v":43},{"r":39,"c":21,"v":72},{"r":39,"c":22,"v":86},{"r":39,"c":23,"v":63},{"r":39,"c":24,"v":72},{"r":39,"c":25,"v":38},{"r":39,"c":26,"v":92},{"r":39,"c":27,"v":71},{"r":39,"c":28,"v":25},{"r":39,"c":29,"v":66},
{"r":40,"c":1,"v":50},{"r":40,"c":2,"v":17},{"r":40,"c":3,"v":33},{"r":40,"c":4,"v":75},{"r":40,"c":5,"v":15},{"r":40,"c":6,"v":80},{"r":40,"c":7,"v":56},{"r":40,"c":8,"v":91},{"r":40,"c":9,"v":42},{"r":40,"c":10,"v":75},{"r":40,"c":11,"v":16},{"r":40,"c":12,"v":29},{"r":40,"c":13,"v":53},{"r":40,"c":14,"v":33},{"r":40,"c":15,"v":59},{"r":40,"c":16,"v":52},{"r":40,"c":17,"v":38},{"r":40,"c":18,"v":26},{"r":40,"c":19,"v":60},{"r":40,"c":20,"v":38},{"r":40,"c":21,"v":44},{"r":40,"c":22,"v":77},{"r":40,"c":23,"v":33},{"r":40,"c":24,"v":60},{"r":40,"c":25,"v":29},{"r":40,"c":26,"v":38},{"r":40,"c":27,"v":41},{"r":40,"c":28,"v":25},{"r":40,"c":29,"v":45}],
"vlines":[{"s":"公用事业"},{"s":"基础化工"},{"s":"农林牧渔"},{"s":"家用电器"},{"s":"医药生物"},{"s":"银行"},{"s":"煤炭"},{"s":"通信"},{"s":"汽车"},{"s":"国防军工"},{"s":"综合"},{"s":"计算机"},{"s":"社会服务"},{"s":"纺织服饰"}],
"hlines":[{"d":"2024-08-02"},{"d":"2024-08-08"},{"d":"2024-08-16"},{"d":"2024-08-22"},{"d":"2024-08-28"},{"d":"2024-09-06"},{"d":"2024-09-12"},{"d":"2024-09-20"},{"d":"2024-09-27"},{"d":"2024-10-08"},{"d":"2024-10-16"},{"d":"2024-10-25"},{"d":"2024-10-31"},{"d":"2024-11-07"},{"d":"2024-11-15"},{"d":"2024-11-21"},{"d":"2024-11-28"}]},
"layer":[
{"data":{"name":"cells"},"transform":[{"lookup":"c","from":{"data":{"name":"cols"},"key":"c","fields":["s"]}},{"lookup":"r","from":{"data":{"name":"rows"},"key":"r","fields":["d"]}}],
"encoding":{"x":{"field":"s","type":"nominal","sort":{"field":"c"},"scale":{"paddingInner":0,"paddingOuter":0,"domain":["公用事业","交通运输","基础化工","有色金属","农林牧渔","钢铁","家用电器","食品饮料","医药生物","电子","银行","非银金融","煤炭","传媒","通信","轻工制造","汽车","机械设备","国防军工","电力设备","综合","商贸零售","计算机","建材","社会服务","石油","纺织服饰","建筑","美容护理"]},"axis":{"orient":"top","title":null,"labelAngle":0,"labelFont":"Noto Sans CJK SC","labelFontSize":4.6,"labelColor":"#000","labelPadding":1,"tickSize":2,"tickColor":"#888","domain":false,"grid":false}},
"y":{"field":"d","type":"nominal","sort":"ascending","scale":{"paddingInner":0,"paddingOuter":0},"axis":{"title":null,"labelFont":"Liberation Sans","labelFontSize":4.5,"labelColor":"#000","labelPadding":1,"tickSize":2,"tickColor":"#888","domain":false,"grid":false}}},
"layer":[
{"mark":{"type":"rect","strokeWidth":0.6},"encoding":{"color":{"field":"v","type":"quantitative","legend":null,"scale":{"domain":[0,50,100],"range":["#00cc00","#ffffff","#cc0000"],"interpolate":"rgb"}},"stroke":{"field":"v","type":"quantitative","legend":null,"scale":{"domain":[0,50,100],"range":["#00cc00","#ffffff","#cc0000"],"interpolate":"rgb"}}}},
{"mark":{"type":"text","font":"Liberation Sans","fontSize":4.5,"fontWeight":"bold","color":"#000"},"encoding":{"text":{"field":"v","type":"quantitative","format":".2f"}}}
]},
{"data":{"name":"vlines"},"mark":{"type":"rule","color":"#000","opacity":0.65,"strokeWidth":1},"encoding":{"x":{"field":"s","type":"nominal","bandPosition":1}}},
{"data":{"name":"hlines"},"mark":{"type":"rule","color":"#000","strokeWidth":1.2},"encoding":{"y":{"field":"d","type":"nominal","bandPosition":1}}}
]}
